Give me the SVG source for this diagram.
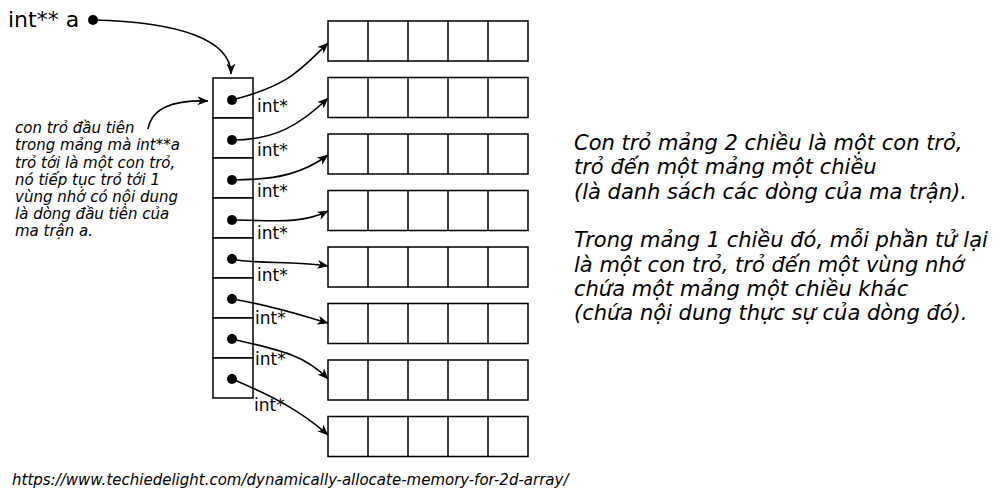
<svg xmlns="http://www.w3.org/2000/svg" width="1006" height="499" viewBox="0 0 1006 499">
<defs>
<marker id="ah" viewBox="0 0 11 9" refX="10.5" refY="4.5" markerWidth="11" markerHeight="9" markerUnits="userSpaceOnUse" orient="auto">
<path d="M0 0 L11 4.5 L0 9 L3 4.5 Z" fill="#000"/>
</marker>
<g id="row">
<rect x="0" y="0" width="200" height="40" fill="#fff" stroke="#000" stroke-width="1.5"/>
<path d="M40 0 V40 M80 0 V40 M120 0 V40 M160 0 V40" stroke="#000" stroke-width="1.5" fill="none"/>
</g>
</defs>
<style>
text{font-family:"DejaVu Sans",sans-serif;fill:#000}
.it{font-style:italic}
.lbl{font-size:17px}
.conn{fill:none;stroke:#000;stroke-width:1.6;marker-end:url(#ah)}
.cell{fill:#fff;stroke:#000;stroke-width:1.5}
</style>
<rect width="1006" height="499" fill="#fff"/>

<g id="var-a">
<text x="8" y="27" font-size="22">int** a</text>
<circle cx="93" cy="20" r="5" fill="#000"/>
</g>

<g id="pointer-array">
<rect class="cell" x="213" y="78" width="40" height="40"/>
<rect class="cell" x="213" y="118" width="40" height="40"/>
<rect class="cell" x="213" y="158" width="40" height="40"/>
<rect class="cell" x="213" y="198" width="40" height="40"/>
<rect class="cell" x="213" y="238" width="40" height="40"/>
<rect class="cell" x="213" y="278" width="40" height="40"/>
<rect class="cell" x="213" y="318" width="40" height="40"/>
<rect class="cell" x="213" y="358" width="40" height="40"/>
<circle cx="232" cy="100" r="5"/>
<circle cx="232" cy="140" r="5"/>
<circle cx="232" cy="180" r="5"/>
<circle cx="232" cy="220" r="5"/>
<circle cx="232" cy="259" r="5"/>
<circle cx="232" cy="299" r="5"/>
<circle cx="232" cy="339" r="5"/>
<circle cx="232" cy="379" r="5"/>
</g>

<g id="labels">
<text class="lbl" x="257" y="112">int*</text>
<text class="lbl" x="257" y="156">int*</text>
<text class="lbl" x="257" y="197">int*</text>
<text class="lbl" x="257" y="239">int*</text>
<text class="lbl" x="257" y="281">int*</text>
<text class="lbl" x="255" y="324">int*</text>
<text class="lbl" x="255" y="365">int*</text>
<text class="lbl" x="254" y="411">int*</text>
</g>

<g id="rows">
<use href="#row" x="328" y="21"/>
<use href="#row" x="328" y="77.5"/>
<use href="#row" x="328" y="134"/>
<use href="#row" x="328" y="190.5"/>
<use href="#row" x="328" y="247"/>
<use href="#row" x="328" y="303.5"/>
<use href="#row" x="328" y="360"/>
<use href="#row" x="328" y="416.5"/>
</g>

<g id="connectors">
<path class="conn" d="M93 20 C180 22 231 40 231 74"/>
<path class="conn" d="M148 129 C152 108 172 100 208 101"/>
<path class="conn" d="M232 100 C290 85 300 70 328 43"/>
<path class="conn" d="M232 140 C275 140 300 125 328 98"/>
<path class="conn" d="M232 180 C280 180 305 172 328 155"/>
<path class="conn" d="M232 220 C270 220 300 225 328 211"/>
<path class="conn" d="M232 259 C260 265 290 260 328 266"/>
<path class="conn" d="M232 299 C270 305 300 315 328 323"/>
<path class="conn" d="M232 339 C280 350 305 355 328 379"/>
<path class="conn" d="M232 379 C270 395 300 410 328 435"/>
</g>

<g id="note-left" class="it" font-size="15">
<text x="15" y="133">con trỏ đầu tiên</text>
<text x="15" y="150">trong mảng mà int**a</text>
<text x="15" y="167.5">trỏ tới là một con trỏ,</text>
<text x="15" y="185">nó tiếp tục trỏ tới 1</text>
<text x="15" y="202">vùng nhớ có nội dung</text>
<text x="15" y="219">là dòng đầu tiên của</text>
<text x="15" y="236">ma trận a.</text>
</g>

<g id="note-right" class="it" font-size="21">
<text x="574" y="150">Con trỏ mảng 2 chiều là một con trỏ,</text>
<text x="574" y="174.3">trỏ đến một mảng một chiều</text>
<text x="574" y="198.6">(là danh sách các dòng của ma trận).</text>
<text x="574" y="247.2">Trong mảng 1 chiều đó, mỗi phần tử lại</text>
<text x="574" y="271.5">là một con trỏ, trỏ đến một vùng nhớ</text>
<text x="574" y="295.8">chứa một mảng một chiều khác</text>
<text x="574" y="320">(chứa nội dung thực sự của dòng đó).</text>
</g>

<g id="source">
<text class="it" x="12" y="485" font-size="15">https://www.techiedelight.com/dynamically-allocate-memory-for-2d-array/</text>
</g>
</svg>
